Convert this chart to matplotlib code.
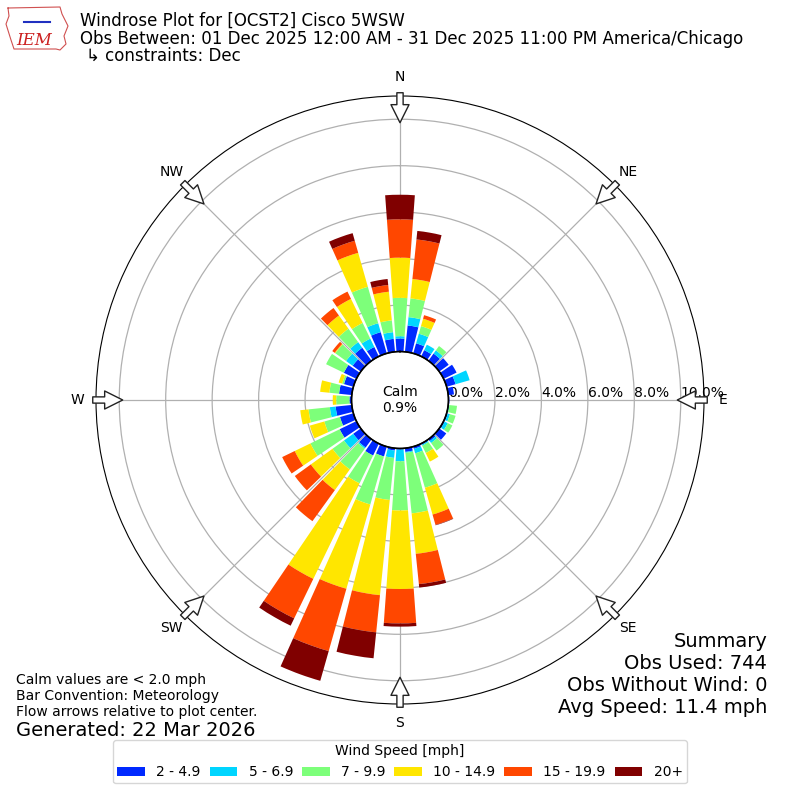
import numpy as np
import matplotlib
matplotlib.use("Agg")
import matplotlib.pyplot as plt
from matplotlib.patches import Patch
from matplotlib.lines import Line2D

# ---------------- data (percent of observations) ----------------
directions = np.arange(0, 360, 10)
speed_bins = ["2 - 4.9", "5 - 6.9", "7 - 9.9", "10 - 14.9", "15 - 19.9", "20+"]

spd_2_5 = [0.56, 1.14, 0.45, 0.30, 0.38, 0.50, 0.62, 0.40, 0.25, 0.04,
           0.02, 0.05, 0.05, 0.37, 0.10, 0.05, 0.10, 0.16, 0.05, 0.10,
           0.44, 0.57, 0.44, 0.40, 0.80, 0.60, 0.70, 0.09, 0.55, 0.42,
           0.60, 0.43, 0.69, 0.45, 0.95, 0.56]
spd_5_7 = [0.10, 0.36, 0.43, 0.26, 0.17, 0.00, 0.00, 0.63, 0.00, 0.00,
           0.03, 0.10, 0.15, 0.00, 0.10, 0.05, 0.20, 0.04, 0.50, 0.32,
           0.00, 0.00, 0.06, 0.49, 0.00, 0.00, 0.25, 0.00, 0.00, 0.00,
           0.00, 0.35, 0.30, 0.40, 0.40, 0.29]
spd_7_10 = [1.65, 0.81, 0.34, 0.00, 0.23, 0.00, 0.00, 0.00, 0.00, 0.00,
            0.33, 0.25, 0.22, 0.00, 0.40, 0.35, 1.54, 2.62, 2.12, 1.82,
            2.15, 1.33, 1.10, 0.61, 1.40, 0.70, 0.92, 0.57, 0.42, 0.08,
            0.85, 0.57, 0.71, 0.75, 1.63, 0.51]
spd_10_15 = [1.73, 0.84, 0.33, 0.00, 0.00, 0.00, 0.00, 0.00, 0.00, 0.00,
             0.00, 0.00, 0.00, 0.00, 0.00, 0.41, 1.20, 1.75, 3.38, 4.12,
             3.77, 4.57, 1.10, 1.15, 0.75, 0.65, 0.36, 0.15, 0.40, 0.16,
             0.00, 0.03, 0.70, 1.15, 1.52, 1.24]
spd_15_20 = [1.65, 1.71, 0.16, 0.00, 0.00, 0.00, 0.00, 0.00, 0.00, 0.00,
             0.00, 0.00, 0.00, 0.00, 0.00, 0.00, 0.46, 1.31, 1.48, 1.61,
             2.79, 1.89, 1.65, 0.85, 0.60, 0.00, 0.00, 0.00, 0.00, 0.00,
             0.00, 0.13, 0.40, 0.35, 0.54, 0.29]
spd_20p = [1.06, 0.37, 0.00, 0.00, 0.00, 0.00, 0.00, 0.00, 0.00, 0.00,
           0.00, 0.00, 0.00, 0.00, 0.00, 0.00, 0.02, 0.15, 0.14, 1.12,
           1.33, 0.35, 0.00, 0.00, 0.00, 0.00, 0.00, 0.00, 0.00, 0.00,
           0.00, 0.00, 0.00, 0.00, 0.34, 0.26]
series = [spd_2_5, spd_5_7, spd_7_10, spd_10_15, spd_15_20, spd_20p]

calm_pct = 0.9
r_ticks = [0, 2, 4, 6, 8, 10]
r_ticklabels = ["0.0%", "2.0%", "4.0%", "6.0%", "8.0%", "10.0%"]
compass = ["N", "NE", "E", "SE", "S", "SW", "W", "NW"]
compass_deg = [0, 45, 90, 135, 180, 225, 270, 315]

title_lines = ["Windrose Plot for [OCST2] Cisco 5WSW",
               "Obs Between: 01 Dec 2025 12:00 AM - 31 Dec 2025 11:00 PM America/Chicago",
               "\u21b3 constraints: Dec"]
summary_lines = ["Summary", "Obs Used: 744", "Obs Without Wind: 0", "Avg Speed: 11.4 mph"]
note_lines = ["Calm values are < 2.0 mph", "Bar Convention: Meteorology",
              "Flow arrows relative to plot center."]
generated = "Generated: 22 Mar 2026"

# ---------------- figure ----------------
plt.rcParams["font.family"] = ["DejaVu Sans"]
fig = plt.figure(figsize=(8, 8), dpi=100)
ax = fig.add_axes([0.12, 0.12, 0.76, 0.76], projection="polar")
ax.set_theta_zero_location("N")
ax.set_theta_direction(-1)
ax.set_rorigin(-2.086)
ax.set_ylim(0, 11.0)
ax.set_axisbelow(True)

colors = plt.cm.jet(np.linspace(0, 1, 7))[1:]
theta = np.deg2rad(directions)
width = np.deg2rad(8.3)
bottom = np.zeros(len(directions))
for vals, col in zip(series, colors):
    vals = np.asarray(vals)
    ax.bar(theta, vals, width=width, bottom=bottom, color=col,
           edgecolor="none", zorder=2)
    bottom = bottom + vals

# calm circle outline
tt = np.linspace(0, 2 * np.pi, 400)
ax.plot(tt, np.zeros_like(tt), color="black", lw=1.2, zorder=4, clip_on=False)
ax.text(0.5, 0.5, "Calm\n%.1f%%" % calm_pct, transform=ax.transAxes,
        ha="center", va="center", fontsize=10, zorder=6)

# grid / ticks
ax.set_yticks(r_ticks)
ax.set_yticklabels(r_ticklabels, fontsize=10)
ax.set_rlabel_position(90)
for lbl in ax.get_yticklabels():
    lbl.set_horizontalalignment("left")
    lbl.set_verticalalignment("bottom")
ax.set_xticks(np.deg2rad(compass_deg))
ax.set_xticklabels(compass, fontsize=10)
ax.tick_params(axis="x", pad=3)
ax.grid(True, color="#b0b0b0", lw=0.9)

# flow arrows
for d in compass_deg:
    th = np.deg2rad(d)
    ax.annotate("", xy=(th, 9.85), xytext=(th, 11.14),
                arrowprops=dict(arrowstyle="simple,head_length=1.3,head_width=1.3,tail_width=0.45",
                                fc="white", ec="#222222", lw=1.0,
                                shrinkA=0, shrinkB=0, mutation_scale=10),
                annotation_clip=False, zorder=7)

# titles
ys = [1 - 26 / 800, 1 - 43.5 / 800, 1 - 60.5 / 800]
xs = [80 / 800, 80 / 800, 86 / 800]
for txt, x, y in zip(title_lines, xs, ys):
    fig.text(x, y, txt, fontsize=12, va="baseline", ha="left")

# summary
for i, txt in enumerate(summary_lines):
    fig.text(0.959, 1 - (647 + 22 * i) / 800, txt, fontsize=14,
             ha="right", va="baseline")

for i, txt in enumerate(note_lines):
    fig.text(0.02, 1 - (684 + 16 * i) / 800, txt, fontsize=10,
             ha="left", va="baseline")
fig.text(0.02, 1 - 736 / 800, generated, fontsize=14, ha="left", va="baseline")

# logo (simple)
outline_px = [(8, 8), (60, 7), (62, 14), (68, 26), (64, 36), (66, 44),
              (60, 50), (56, 49), (14, 49), (11, 40), (6, 24), (9, 16), (8, 8)]
lx = [p[0] / 800 for p in outline_px]
ly = [1 - p[1] / 800 for p in outline_px]
fig.add_artist(Line2D(lx, ly, color="#d05050", lw=0.8))
fig.add_artist(Line2D([24 / 800, 50 / 800], [1 - 22 / 800, 1 - 22 / 800],
                      color="#2030c0", lw=1.5))
fig.text(16 / 800, 1 - 45 / 800, "IEM", color="#cc2020", fontsize=12,
         fontstyle="italic", family="DejaVu Serif", va="baseline")

# legend
handles = [Patch(facecolor=c) for c in colors]
fig.legend(handles, speed_bins, loc="lower center", bbox_to_anchor=(0.5, 0.012),
           ncol=6, title="Wind Speed [mph]", fontsize=10, title_fontsize=10,
           columnspacing=0.65, borderpad=0.3)

fig.savefig("out.png", dpi=100)
